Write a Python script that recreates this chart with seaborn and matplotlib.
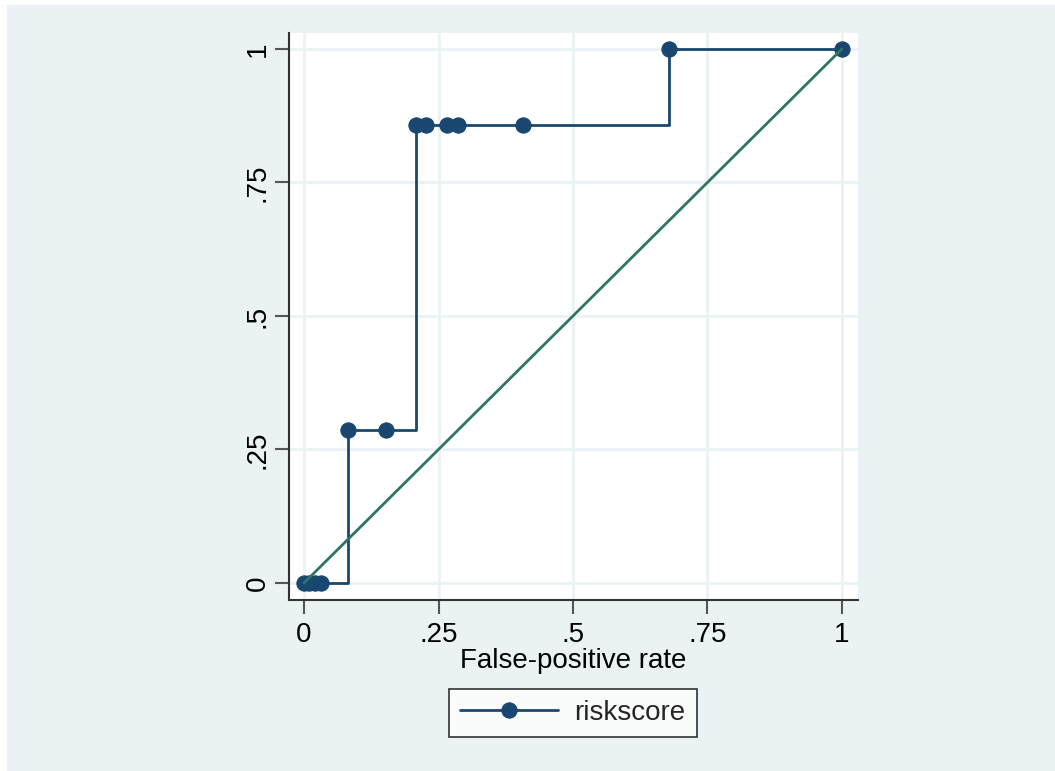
import matplotlib
matplotlib.use("Agg")
import matplotlib.pyplot as plt
import seaborn as sns
import pandas as pd
from matplotlib.patches import Rectangle

# ROC points (false-positive rate, sensitivity)
fpr = [0.0, 0.010, 0.020, 0.032, 0.082, 0.153, 0.209, 0.226, 0.265, 0.287, 0.407, 0.679, 1.0]
tpr = [0.0, 0.0, 0.0, 0.0, 0.286, 0.286, 0.857, 0.857, 0.857, 0.857, 0.857, 1.0, 1.0]
ref_x = [0.0, 1.0]
ref_y = [0.0, 1.0]
tick_vals = [0, 0.25, 0.5, 0.75, 1]
tick_labels = ["0", ".25", ".5", ".75", "1"]
series_name = "riskscore"

df = pd.DataFrame({"fpr": fpr, "tpr": tpr})
ref = pd.DataFrame({"x": ref_x, "y": ref_y})

sns.set_theme(style="white")
plt.rcParams["font.family"] = ["Liberation Sans", "DejaVu Sans"]

navy = "#1a476f"
green = "#2e7563"
bg = "#eaf2f3"
fs = 20

fig = plt.figure(figsize=(10.55, 7.71), dpi=100, facecolor="white")
fig.patches.append(Rectangle((7 / 1055, 0), 1, 1 - 5 / 771, transform=fig.transFigure,
                             facecolor=bg, edgecolor="none", zorder=-10))
ax = fig.add_axes([289 / 1055, (771 - 600) / 771, (858 - 289) / 1055, (600 - 33) / 771])
ax.set_facecolor("white")

sns.lineplot(data=df, x="fpr", y="tpr", ax=ax, color=navy, linewidth=2,
             drawstyle="steps-post", marker="o", markersize=11,
             markeredgecolor=navy, markerfacecolor=navy, label=series_name,
             estimator=None, sort=False, zorder=3)
sns.lineplot(data=ref, x="x", y="y", ax=ax, color=green, linewidth=2,
             legend=False, zorder=4)

ax.set_xlim(-0.028, 1.03)
ax.set_ylim(-0.032, 1.03)
ax.set_xticks(tick_vals)
ax.set_xticklabels(tick_labels, fontsize=fs)
ax.set_yticks(tick_vals)
ax.set_yticklabels(tick_labels, fontsize=fs, rotation=90, va="center")
ax.grid(True, color=bg, linewidth=2)
ax.set_axisbelow(True)
ax.tick_params(axis="both", direction="out", length=10, width=1.5, color="#555555",
               bottom=True, left=True, labelcolor="black")
ax.tick_params(axis="x", pad=6)
ax.tick_params(axis="y", pad=3)
for s in ["top", "right"]:
    ax.spines[s].set_visible(False)
for s in ["left", "bottom"]:
    ax.spines[s].set_color("#333333")
    ax.spines[s].set_linewidth(1.5)
ax.set_xlabel("False-positive rate", fontsize=fs, labelpad=0, color="black")
ax.set_ylabel("")

leg = ax.legend(loc="center", bbox_to_anchor=(573 / 1055, 58 / 771),
                bbox_transform=fig.transFigure, fontsize=fs, frameon=True,
                fancybox=False, edgecolor="black", handlelength=3.5,
                borderpad=0.4, handletextpad=0.6, numpoints=1)
leg.get_frame().set_linewidth(1.2)
leg.get_frame().set_facecolor("white")

fig.savefig("out.png", dpi=100, facecolor=fig.get_facecolor())
